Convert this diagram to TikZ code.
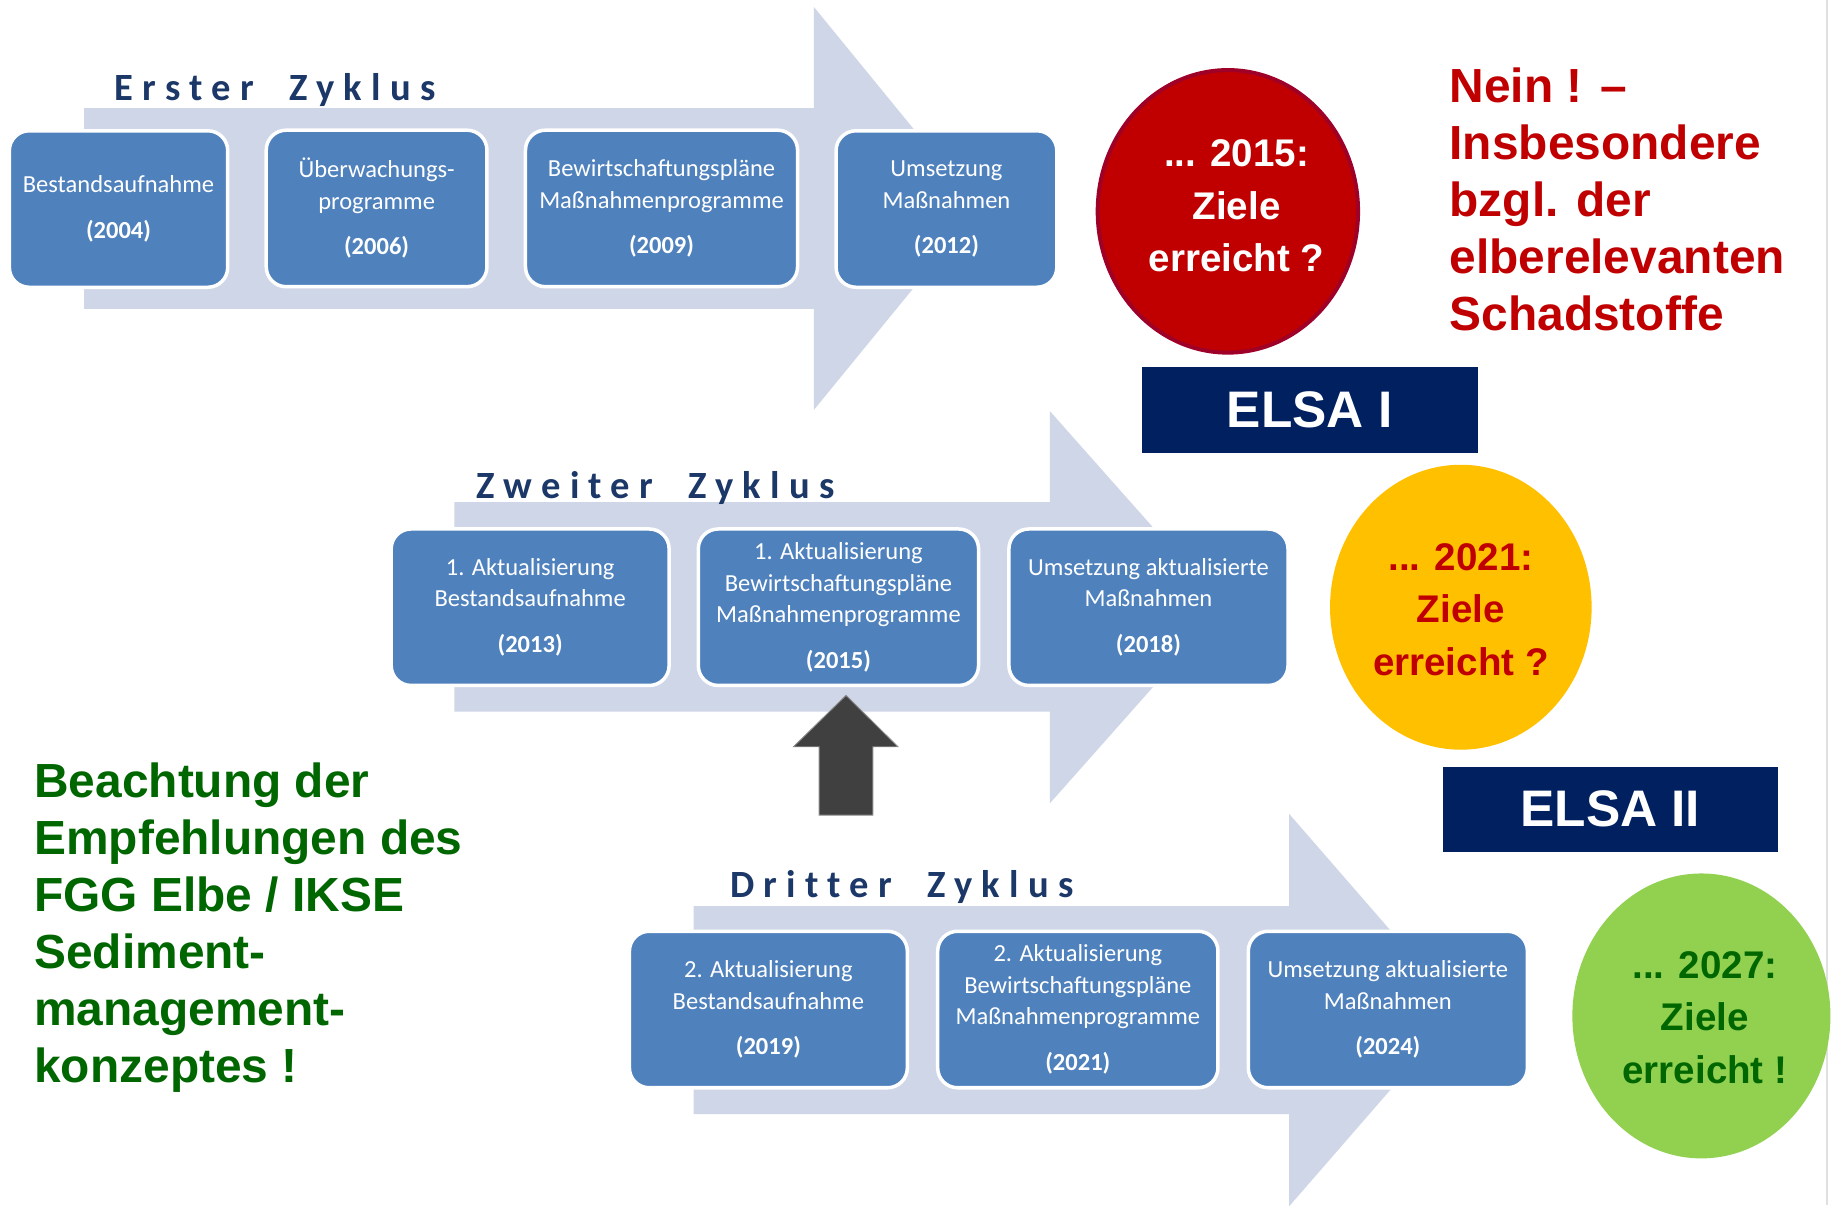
\documentclass[tikz,border=0pt]{standalone}
\usepackage{fontspec}
\setmainfont{Liberation Sans}
\newfontfamily\calfont{Carlito}
\newfontfamily\titlefont{Carlito}[LetterSpace=24,Ligatures={NoCommon}]
\usetikzlibrary{shapes.geometric}
\definecolor{arrowgray}{RGB}{207,214,231}
\definecolor{boxblue}{RGB}{79,129,189}
\definecolor{titlenavy}{RGB}{28,56,104}
\definecolor{circred}{RGB}{192,0,0}
\definecolor{redborder}{RGB}{158,0,40}
\definecolor{textred}{RGB}{192,0,0}
\definecolor{elsanavy}{RGB}{0,32,96}
\definecolor{circyellow}{RGB}{255,192,0}
\definecolor{circgreen}{RGB}{146,208,80}
\definecolor{textgreen}{RGB}{0,102,0}
\definecolor{darkarrow}{RGB}{64,64,64}
\tikzset{
  pbox/.style={draw=white, line width=1.5pt, fill=boxblue, rounded corners=8.5pt,
    text=white, align=center, inner sep=0pt, minimum height=67pt,
    font=\calfont\fontsize{10.5}{13.5}\selectfont},
  cyctitle/.style={anchor=base west, inner sep=0pt, text=titlenavy,
    font=\titlefont\bfseries\fontsize{16.5}{20}\selectfont},
  goal/.style={ellipse, inner sep=0pt},
  goaltext/.style={align=center, inner sep=0pt,
    font=\bfseries\fontsize{16.5}{22.5}\selectfont},
  elsabox/.style={fill=elsanavy, draw=elsanavy, text=white, inner sep=0pt,
    font=\bfseries\fontsize{22}{26}\selectfont},
  bigtext/.style={anchor=north west, align=left, inner sep=0pt}
}
\newcommand{\wgap}{\hspace*{15pt}}
\begin{document}
\begin{tikzpicture}[x=0.5pt,y=-0.5pt]
\useasboundingbox (0,0) rectangle (1568,1032);
\fill[white] (0,0) rectangle (1568,1032);
\draw[black!12, line width=0.5pt] (1564.5,0) -- (1564.5,1032);

% process arrows
\fill[arrowgray] (72,92.5) -- (697,92.5) -- (697,6) -- (838,178.5) -- (697,351) -- (697,264.5) -- (72,264.5) -- cycle;
\fill[arrowgray] (389,430) -- (899,430) -- (899,352) -- (1048,520) -- (899,688) -- (899,609.5) -- (389,609.5) -- cycle;
\fill[arrowgray] (594,776) -- (1104,776) -- (1104,697) -- (1250,865) -- (1104,1033) -- (1104,954) -- (594,954) -- cycle;

% titles
\node[cyctitle] (t1) at (98,86) {Erster\wgap Zyklus};
\node[cyctitle] (t2) at (408,427) {Zweiter\wgap Zyklus};
\node[cyctitle] (t3) at (625,769) {Dritter\wgap Zyklus};

% first cycle
\node[pbox, minimum width=93.5pt] (a1) at (101.5,179) {Bestandsaufnahme\\[6pt]\textbf{(2004)}};
\node[pbox, minimum width=94.5pt] (a2) at (322.5,178.5) {Überwachungs-\\programme\\[6pt]\textbf{(2006)}};
\node[pbox, minimum width=116.5pt] (a3) at (566.5,178.5) {Bewirtschaftungspläne\\Maßnahmenprogramme\\[6pt]\textbf{(2009)}};
\node[pbox, minimum width=94.5pt] (a4) at (810.5,179) {Umsetzung\\Maßnahmen\\[6pt]\textbf{(2012)}};

% second cycle
\node[pbox, minimum width=119pt] (b1) at (454,520) {1. Aktualisierung\\Bestandsaufnahme\\[6pt]\textbf{(2013)}};
\node[pbox, minimum width=120pt] (b2) at (718,520) {1. Aktualisierung\\Bewirtschaftungspläne\\Maßnahmenprogramme\\[6pt]\textbf{(2015)}};
\node[pbox, minimum width=119.5pt] (b3) at (983.5,520) {Umsetzung aktualisierte\\Maßnahmen\\[6pt]\textbf{(2018)}};

% third cycle
\node[pbox, minimum width=119pt] (c1) at (658,864.5) {2. Aktualisierung\\Bestandsaufnahme\\[6pt]\textbf{(2019)}};
\node[pbox, minimum width=120pt] (c2) at (923,864.5) {2. Aktualisierung\\Bewirtschaftungspläne\\Maßnahmenprogramme\\[6pt]\textbf{(2021)}};
\node[pbox, minimum width=119.5pt] (c3) at (1188.5,864.5) {Umsetzung aktualisierte\\Maßnahmen\\[6pt]\textbf{(2024)}};

% up arrow
\filldraw[fill=darkarrow, draw=black!45, line width=0.4pt] (724.5,595.5) -- (769,639.5) -- (747.5,639.5) -- (747.5,698) -- (701.5,698) -- (701.5,639.5) -- (679.5,639.5) -- cycle;

% goal circles
\node[goal, fill=circred, draw=redborder, line width=1.7pt, minimum width=111.5pt, minimum height=121pt] (g1) at (1051.5,181) {};
\node[goaltext, text=white] (g1t) at (1059,176.5) {... 2015:\\Ziele\\erreicht ?};
\node[goal, fill=circyellow, minimum width=112pt, minimum height=122pt] (g2) at (1251,520) {};
\node[goaltext, text=textred] (g2t) at (1251,522) {... 2021:\\Ziele\\erreicht ?};
\node[goal, fill=circgreen, minimum width=110.5pt, minimum height=122pt] (g3) at (1457,870) {};
\node[goaltext, text=textgreen] (g3t) at (1460,871.5) {... 2027:\\Ziele\\erreicht !};

% ELSA boxes
\node[elsabox, minimum width=143.5pt, minimum height=36.5pt] (e1) at (1121.5,351) {ELSA I};
\node[elsabox, minimum width=143pt, minimum height=36pt] (e2) at (1379,693) {ELSA II};

% texts
\node[bigtext, text=textred, font=\bfseries\fontsize{20.5}{24.45}\selectfont] (nein) at (1241,57.6) {Nein ! –\\Insbesondere\\bzgl. der\\elberelevanten\\Schadstoffe};
\node[bigtext, text=textgreen, font=\bfseries\fontsize{20.5}{24.4}\selectfont] (beach) at (29,652.6) {Beachtung der\\Empfehlungen des\\FGG Elbe / IKSE\\Sediment-\\management-\\konzeptes !};
\end{tikzpicture}
\end{document}
